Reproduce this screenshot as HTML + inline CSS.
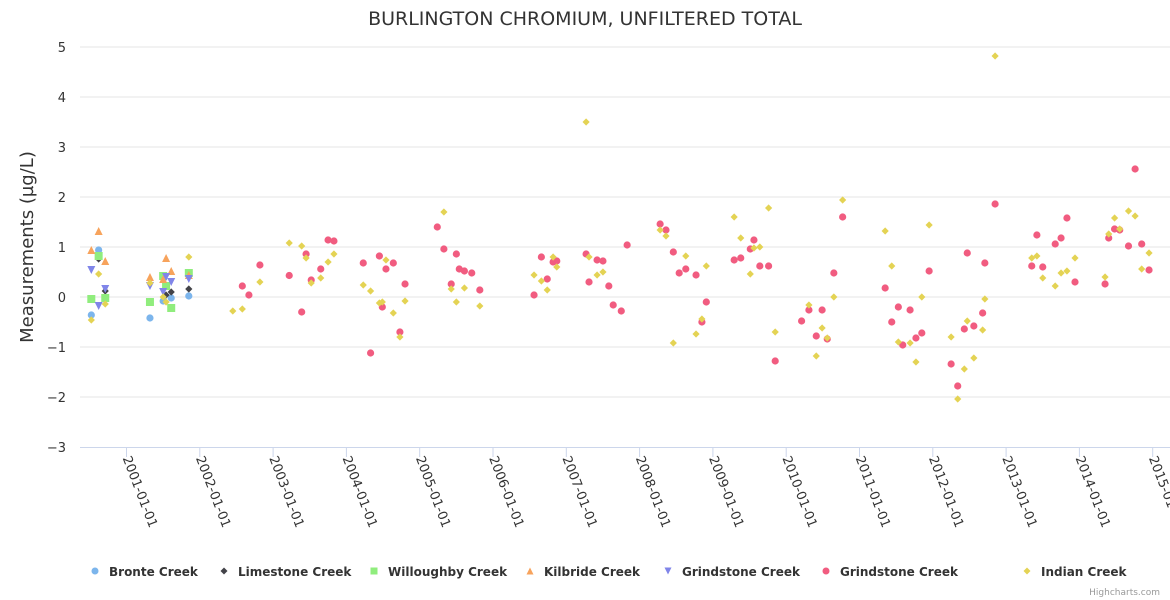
<!DOCTYPE html>
<html><head><meta charset="utf-8"><style>
html,body{margin:0;padding:0;background:#fff;}
svg{display:block;font-family:"DejaVu Sans","Liberation Sans",sans-serif;}
</style></head><body>
<svg id="chart" width="1170" height="600" viewBox="0 0 1170 600" xmlns="http://www.w3.org/2000/svg">
<text x="585" y="25" text-anchor="middle" font-size="19" fill="#333">BURLINGTON CHROMIUM, UNFILTERED TOTAL</text>
<text transform="translate(33,247) rotate(-90)" text-anchor="middle" font-size="18" fill="#333">Measurements (µg/L)</text>
<g id="grid"></g><g id="xaxis"></g><g id="points"></g><g id="legend"></g>
<text x="1160" y="595" text-anchor="end" font-size="9" fill="#999">Highcharts.com</text>
</svg>
<script>
const yTicks=[-3,-2,-1,0,1,2,3,4,5];
const xTickYears=[2001,2002,2003,2004,2005,2006,2007,2008,2009,2010,2011,2012,2013,2014,2015];
const bronteDates=[2000.62,2000.52,2001.32,2001.50,2001.61,2001.85];
const bronteValues=[0.94,-0.36,-0.42,-0.08,-0.02,0.02];
const limestoneDates=[2000.62,2000.71,2001.54,2001.61,2001.85];
const limestoneValues=[0.76,0.12,0.04,0.1,0.16];
const willoughbyDates=[2000.52,2000.62,2000.71,2001.32,2001.50,2001.54,2001.61,2001.85];
const willoughbyValues=[-0.04,0.82,-0.02,-0.1,0.42,0.22,-0.22,0.48];
const kilbrideDates=[2000.52,2000.62,2000.71,2001.32,2001.50,2001.54,2001.61,2001.85];
const kilbrideValues=[0.94,1.32,0.72,0.4,0.36,0.78,0.52,0.44];
const grindTriDates=[2000.52,2000.62,2000.71,2001.32,2001.50,2001.54,2001.61,2001.85];
const grindTriValues=[0.54,-0.18,0.16,0.22,0.1,0.4,0.3,0.36];
const grindDates=[2002.58,2002.67,2002.82,2003.22,2003.39,2003.45,2003.52,2003.65,2003.75,2003.83,2004.23,2004.33,2004.45,2004.49,2004.54,2004.64,2004.73,2004.80,2005.24,2005.33,2005.50,2005.43,2005.54,2005.61,2005.71,2005.82,2006.56,2006.66,2006.74,2006.82,2006.87,2007.27,2007.31,2007.42,2007.50,2007.58,2007.64,2007.75,2007.83,2008.28,2008.36,2008.46,2008.54,2008.63,2008.77,2008.91,2008.85,2009.29,2009.38,2009.51,2009.56,2009.64,2009.76,2009.85,2010.21,2010.31,2010.49,2010.41,2010.56,2010.65,2010.77,2011.35,2011.44,2011.53,2011.59,2011.69,2011.77,2011.85,2011.95,2012.25,2012.34,2012.43,2012.47,2012.56,2012.68,2012.71,2012.85,2013.35,2013.42,2013.50,2013.67,2013.75,2013.83,2013.94,2014.35,2014.40,2014.48,2014.55,2014.67,2014.76,2014.85,2014.95];
const grindValues=[0.22,0.04,0.64,0.43,-0.3,0.86,0.34,0.56,1.14,1.12,0.68,-1.12,0.82,-0.2,0.56,0.68,-0.7,0.26,1.4,0.96,0.86,0.26,0.56,0.52,0.48,0.14,0.04,0.8,0.36,0.7,0.72,0.86,0.3,0.74,0.72,0.22,-0.16,-0.28,1.04,1.46,1.34,0.9,0.48,0.56,0.44,-0.1,-0.5,0.74,0.78,0.96,1.14,0.62,0.62,-1.28,-0.48,-0.26,-0.26,-0.78,-0.84,0.48,1.6,0.18,-0.5,-0.2,-0.96,-0.26,-0.82,-0.72,0.52,-1.34,-1.78,-0.64,0.88,-0.58,-0.32,0.68,1.86,0.62,1.24,0.6,1.06,1.18,1.58,0.3,0.26,1.18,1.36,1.34,1.02,2.56,1.06,0.54];
const indianDates=[2000.52,2000.62,2000.71,2001.32,2001.50,2001.54,2001.85,2002.45,2002.58,2002.82,2003.22,2003.39,2003.45,2003.52,2003.65,2003.75,2003.83,2004.23,2004.33,2004.45,2004.49,2004.54,2004.64,2004.73,2004.80,2005.33,2005.43,2005.50,2005.61,2005.82,2006.56,2006.66,2006.74,2006.82,2006.87,2007.27,2007.31,2007.42,2007.50,2008.28,2008.36,2008.46,2008.63,2008.77,2008.85,2008.91,2009.29,2009.38,2009.51,2009.56,2009.64,2009.76,2009.85,2010.31,2010.41,2010.49,2010.56,2010.65,2010.77,2011.35,2011.44,2011.53,2011.69,2011.77,2011.85,2011.95,2012.25,2012.34,2012.43,2012.47,2012.56,2012.68,2012.71,2012.85,2013.35,2013.42,2013.50,2013.67,2013.75,2013.83,2013.94,2014.35,2014.40,2014.48,2014.55,2014.67,2014.76,2014.85,2014.95];
const indianValues=[-0.46,0.46,-0.14,0.28,0,-0.1,0.8,-0.28,-0.24,0.3,1.08,1.02,0.78,0.28,0.38,0.7,0.86,0.24,0.12,-0.12,-0.1,0.74,-0.32,-0.8,-0.08,1.7,0.16,-0.1,0.18,-0.18,0.44,0.32,0.14,0.8,0.6,3.5,0.8,0.44,0.5,1.34,1.22,-0.92,0.82,-0.74,-0.44,0.62,1.6,1.18,0.46,0.98,1.0,1.78,-0.7,-0.16,-1.18,-0.62,-0.82,0,1.94,1.32,0.62,-0.9,-0.92,-1.3,0,1.44,-0.8,-2.04,-1.44,-0.48,-1.22,-0.66,-0.04,4.82,0.78,0.82,0.38,0.22,0.48,0.52,0.78,0.4,1.26,1.58,1.36,1.72,1.62,0.56,0.88];

const NS='http://www.w3.org/2000/svg';
const L=80,R=1170,T=47,B=447;
function xScale(yr){return 126.5+(yr-2001)*73.3;}
function yScale(v){return B-(v-(-3))/8*(B-T);}
function mk(tag,attrs,parent){const e=document.createElementNS(NS,tag);for(const k in attrs)e.setAttribute(k,attrs[k]);parent.appendChild(e);return e;}
const grid=document.getElementById('grid'),xa=document.getElementById('xaxis'),pts=document.getElementById('points'),leg=document.getElementById('legend');
yTicks.forEach(t=>{
  const y=yScale(t);
  if(t>-3){const l=mk('line',{x1:L,x2:R,y1:y,y2:y,stroke:'#e6e6e6','stroke-width':1},grid);
  
  }
  const tx=mk('text',{x:66,y:y+5,'text-anchor':'end','font-size':13,fill:'#333'},grid);
  tx.textContent=t<0?'\u2212'+(-t):t;
  
  
});
const axl=mk('line',{x1:L,x2:R,y1:B+0.5,y2:B+0.5,stroke:'#ccd6eb','stroke-width':1},xa);


xTickYears.forEach(yr=>{
  const x=xScale(yr);
  const tk=mk('line',{x1:x,x2:x,y1:B,y2:B+10,stroke:'#ccd6eb'},xa);
  
  
  const tx=mk('text',{transform:`translate(${x-4},${B+11}) rotate(69)`,'font-size':13,fill:'#333'},xa);
  tx.textContent=yr+'-01-01';
  
  
});
function marker(shape,color,x,y,parent,r){
  r=r||4;let e;
  if(shape==='circle')e=mk('circle',{cx:x,cy:y,r:r,fill:color},parent);
  else if(shape==='square')e=mk('rect',{x:x-r,y:y-r,width:2*r,height:2*r,fill:color},parent);
  else if(shape==='diamond')e=mk('path',{d:`M${x} ${y-r}L${x+r} ${y}L${x} ${y+r}L${x-r} ${y}Z`,fill:color},parent);
  else if(shape==='triangle')e=mk('path',{d:`M${x} ${y-r}L${x+r} ${y+r}L${x-r} ${y+r}Z`,fill:color},parent);
  else e=mk('path',{d:`M${x-r} ${y-r}L${x+r} ${y-r}L${x} ${y+r}Z`,fill:color},parent);
  return e;
}
const series=[
 {name:'Bronte Creek',shape:'circle',color:'#7cb5ec',d:bronteDates,v:bronteValues,lx:95},
 {name:'Limestone Creek',shape:'diamond',color:'#434348',d:limestoneDates,v:limestoneValues,lx:224},
 {name:'Willoughby Creek',shape:'square',color:'#90ed7d',d:willoughbyDates,v:willoughbyValues,lx:374},
 {name:'Kilbride Creek',shape:'triangle',color:'#f7a35c',d:kilbrideDates,v:kilbrideValues,lx:530},
 {name:'Grindstone Creek',shape:'tridown',color:'#8085e9',d:grindTriDates,v:grindTriValues,lx:668},
 {name:'Grindstone Creek',shape:'circle',color:'#f15c80',d:grindDates,v:grindValues,lx:826},
 {name:'Indian Creek',shape:'diamond',color:'#e4d354',d:indianDates,v:indianValues,lx:1027}
];
series.forEach((s,si)=>{
  const g=mk('g',{},pts);
  
  
  s.d.forEach((yr,i)=>{
    const m=marker(s.shape,s.color,xScale(yr),yScale(s.v[i]),g,s.shape==='diamond'?3.6:(s.shape==='circle'?3.6:4));
    
    
  });
  const lg=mk('g',{},leg);
  
  
  marker(s.shape,s.color,s.lx,571,lg,3.5);
  const t=mk('text',{x:s.lx+14,y:576,'font-size':12,'font-weight':'bold',fill:'#333'},lg);
  t.textContent=s.name;
});
</script>
</body></html>
